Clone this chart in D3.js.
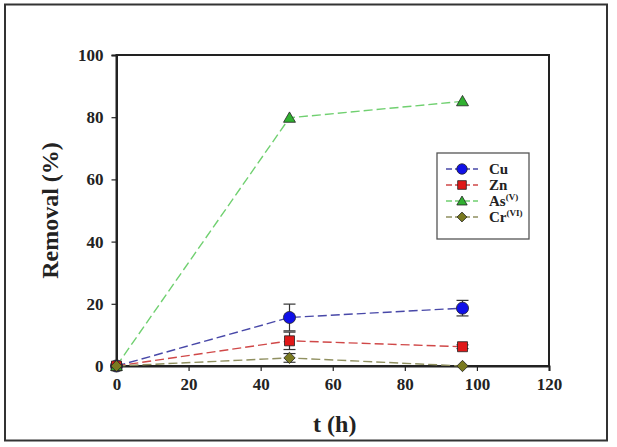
<!DOCTYPE html>
<html><head><meta charset="utf-8">
<script src="https://cdn.jsdelivr.net/npm/d3@7/dist/d3.min.js"></script>
<style>body{margin:0;background:#fff}svg{display:block}</style>
</head><body>
<script>
const times = [0, 48, 96];
const cuValues = [0, 15.6, 18.6];
const cuErrors = [0, 4.3, 2.5];
const znValues = [0, 8.1, 6.2];
const znErrors = [0, 2.8, 0.6];
const asValues = [0, 79.8, 85.1];
const asErrors = [0, 0, 0];
const crValues = [0, 2.6, 0];
const crErrors = [0, 1.4, 0];
const xTicks = [0, 20, 40, 60, 80, 100, 120];
const yTicks = [0, 20, 40, 60, 80, 100];
const seriesNames = ["Cu", "Zn", "As", "Cr"];
const seriesSup = ["", "", "(V)", "(VI)"];

const W = 617, H = 447;
const svg = d3.select("body").append("svg").attr("width", W).attr("height", H);
svg.append("rect").attr("x", 5).attr("y", 4.5).attr("width", 602).attr("height", 436)
  .attr("fill", "none").attr("stroke", "#333").attr("stroke-width", 2);

const x = d3.scaleLinear().domain([0, 120]).range([116.5, 549]);
const y = d3.scaleLinear().domain([0, 100]).range([366, 55]);

const font = "'Liberation Serif', 'Times New Roman', serif";

svg.append("rect").attr("x", x(0)).attr("y", y(100)).attr("width", x(120) - x(0)).attr("height", y(0) - y(100))
  .attr("fill", "none").attr("stroke", "#222").attr("stroke-width", 2);

const gx = svg.append("g").attr("transform", `translate(0,${y(0)})`)
  .call(d3.axisBottom(x).tickValues(xTicks).tickSize(5).tickPadding(7).tickFormat(d3.format("d")));
const gy = svg.append("g").attr("transform", `translate(${x(0)},0)`)
  .call(d3.axisLeft(y).tickValues(yTicks).tickSize(5).tickPadding(8).tickFormat(d3.format("d")));
[gx, gy].forEach(g => {
  g.select(".domain").attr("stroke", "#222").attr("stroke-width", 2);
  g.selectAll(".tick line").attr("stroke", "#222").attr("stroke-width", 1.2);
  g.selectAll(".tick text").attr("font-family", font).attr("font-weight", "bold")
    .attr("font-size", 17).attr("fill", "#222");
});

svg.append("text").attr("x", (x(0) + x(120)) / 2 + 2).attr("y", 432)
  .attr("text-anchor", "middle").attr("font-family", font).attr("font-weight", "bold")
  .attr("font-size", 24).attr("fill", "#222").text("t (h)");
svg.append("text").attr("transform", `translate(58,${(y(0) + y(100)) / 2}) rotate(-90)`)
  .attr("text-anchor", "middle").attr("font-family", font).attr("font-weight", "bold")
  .attr("font-size", 24).attr("fill", "#222").text("Removal (%)");

const diamond = { draw(ctx, size) { const r = Math.sqrt(size / 2); ctx.moveTo(0, -r); ctx.lineTo(r, 0); ctx.lineTo(0, r); ctx.lineTo(-r, 0); ctx.closePath(); } };

const series = [
  { vals: cuValues, errs: cuErrors, line: "#4848a8", fill: "#1010e8", shape: d3.symbolCircle, size: 115, dy: 0 },
  { vals: znValues, errs: znErrors, line: "#d04848", fill: "#e01818", shape: d3.symbolSquare, size: 100, dy: 0 },
  { vals: asValues, errs: asErrors, line: "#70d070", fill: "#30b030", shape: d3.symbolTriangle, size: 62, dy: 1 },
  { vals: crValues, errs: crErrors, line: "#909060", fill: "#7a7a20", shape: diamond, size: 64, dy: 0 }
];

const line = d3.line().x((d, i) => x(times[i])).y(d => y(d));
series.forEach(s => {
  svg.append("path").datum(s.vals).attr("d", line).attr("fill", "none")
    .attr("stroke", s.line).attr("stroke-width", 1.4).attr("stroke-dasharray", "9,4");
});
series.forEach(s => {
  s.vals.forEach((v, i) => {
    const e = s.errs[i];
    if (e > 0) {
      const cx = x(times[i]);
      const g = svg.append("g").attr("stroke", "#333").attr("stroke-width", 1.2);
      g.append("line").attr("x1", cx).attr("x2", cx).attr("y1", y(v + e)).attr("y2", y(v - e));
      g.append("line").attr("x1", cx - 6).attr("x2", cx + 6).attr("y1", y(v + e)).attr("y2", y(v + e));
      g.append("line").attr("x1", cx - 6).attr("x2", cx + 6).attr("y1", y(v - e)).attr("y2", y(v - e));
    }
  });
  s.vals.forEach((v, i) => {
    svg.append("path").attr("d", d3.symbol().type(s.shape).size(s.size)())
      .attr("transform", `translate(${x(times[i])},${y(v) + s.dy})`)
      .attr("fill", s.fill).attr("stroke", "#222").attr("stroke-width", 0.8);
  });
});

const lg = svg.append("g");
lg.append("rect").attr("x", 437).attr("y", 153).attr("width", 92).attr("height", 86)
  .attr("fill", "#fff").attr("stroke", "#555").attr("stroke-width", 1.3);
series.forEach((s, i) => {
  const ly = 169 + i * 16;
  lg.append("line").attr("x1", 446).attr("x2", 478).attr("y1", ly).attr("y2", ly)
    .attr("stroke", s.line).attr("stroke-width", 1.3).attr("stroke-dasharray", "6,3");
  lg.append("path").attr("d", d3.symbol().type(s.shape).size(s.size * 0.75)())
    .attr("transform", `translate(462,${ly + s.dy})`)
    .attr("fill", s.fill).attr("stroke", "#222").attr("stroke-width", 0.8);
  const t = lg.append("text").attr("x", 489).attr("y", ly + 5).attr("font-family", font)
    .attr("font-weight", "bold").attr("font-size", 15).attr("fill", "#222");
  t.append("tspan").text(seriesNames[i]);
  if (seriesSup[i]) t.append("tspan").attr("dy", -6).attr("font-size", 9).text(seriesSup[i]);
});
</script>
</body></html>
